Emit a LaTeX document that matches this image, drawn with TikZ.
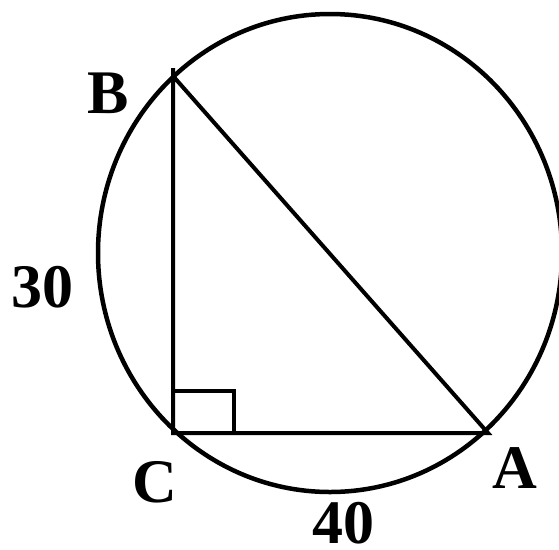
\documentclass[tikz,border=0pt]{standalone}
\usepackage{fontspec}
\setmainfont{Liberation Serif}
\begin{document}
\begin{tikzpicture}[x=1pt, y=-1pt, lbl/.style={font=\fontsize{62}{62}\selectfont\bfseries, inner sep=0pt}]
  \useasboundingbox (0,0) rectangle (559,549);
  % Circle through the vertices
  \draw[line width=4.5pt] (330,253) ellipse [x radius=232, y radius=239];

  % Vertices
  \coordinate (B) at (173,76);
  \coordinate (C) at (173,433);
  \coordinate (A) at (488,433);
  \coordinate (Btop) at (173,68);

  % Triangle
  \draw[line width=4pt] (Btop) -- (C) -- (A) -- (B);

  % Right angle mark
  \draw[line width=4pt] (173,391) -- (234,391) -- (234,433);

  % Labels
  \node[lbl] (labB) at (108,93) {B};
  \node[lbl] (labC) at (155,482) {C};
  \node[lbl] (labA) at (515,468) {A};
  \node[lbl] (lab30) at (43,287) {30};
  \node[lbl, text depth=0pt, anchor=base] (lab40) at (343,543) {40};
\end{tikzpicture}
\end{document}
